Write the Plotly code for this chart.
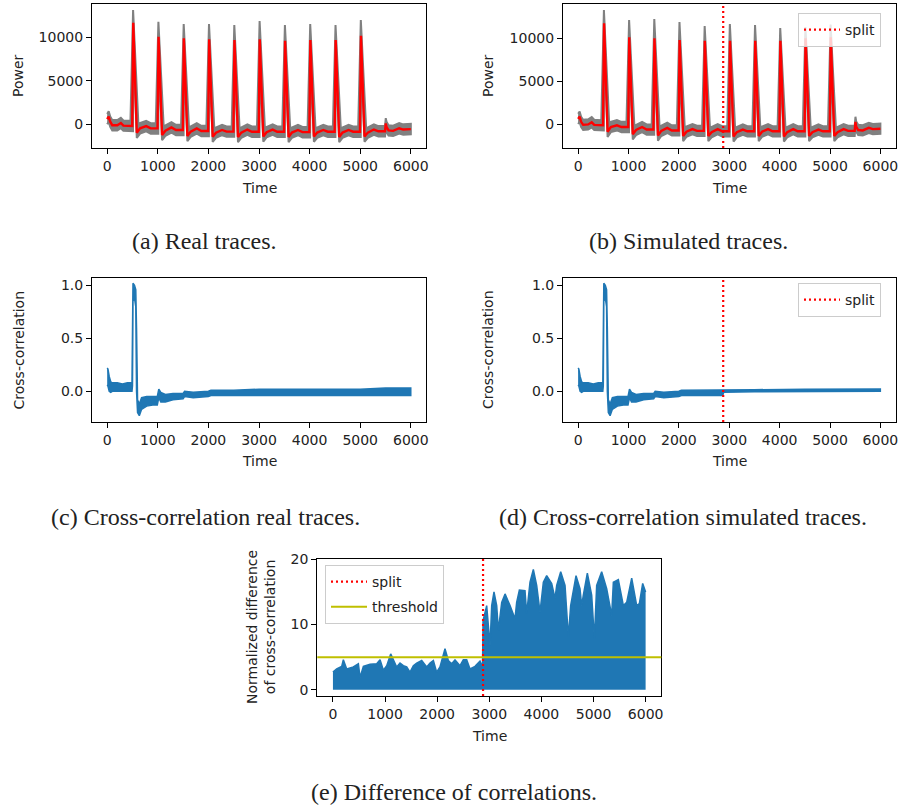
import plotly.graph_objects as go

W, H = 902, 807

# ---------------- data ----------------
TIME_TICKS = [0, 1000, 2000, 3000, 4000, 5000, 6000]
POWER_TICKS = [0, 5000, 10000]
CC_TICKS = [0.0, 0.5, 1.0]
DIFF_TICKS = [0, 10, 20]
SPLIT_TIME = 2880
THRESHOLD = 5

SPIKE_TIMES = [500, 1000, 1500, 2000, 2500, 3000, 3500, 4000, 4500, 5000]

# (a) real traces: mean trace (red) and spread of all traces (grey)
real_head_t = [0, 30, 60, 100, 200, 270, 320, 450]
real_head = [600, 900, 300, -100, -100, 150, -150, -200]
real_peak = [11680, 10070, 9880, 9770, 9690, 9770, 9610, 9690, 9690, 10180]
real_grey_peak = [13140, 11790, 11530, 11530, 11410, 11870, 11410, 11530, 11410, 11990]
real_trough = [-960, -1230, -1340, -1420, -1450, -1400, -1450, -1400, -1450, -1400]
real_recover = [-460, -730, -840, -960, -950, -900, -950, -950, -950, -950]
real_bump = [-200, -350, -460, -650, -600, -600, -650, -650, -650, -600]
real_flat = [-470, -650, -770, -840, -850, -850, -900, -850, -850, -800]
real_tail_t = [5490, 5505, 5520, 5560, 5650, 5770, 5850, 6000]
real_tail = [-800, 110, -300, -700, -750, -450, -600, -550]
real_spread = 600

# (b) simulated traces
sim_head_t = [0, 30, 60, 100, 200, 270, 320, 450]
sim_head = [600, 850, 250, -100, -50, 200, -100, -150]
sim_peak = [11750, 10120, 10000, 9800, 9720, 9720, 9720, 9720, 10000, 10120]
sim_grey_peak = [13300, 12130, 12250, 11900, 11440, 11670, 11550, 11200, 11300, 11600]
sim_trough = [-900, -1200, -1350, -1400, -1400, -1450, -1400, -1450, -1400, -1400]
sim_recover = [-350, -700, -800, -900, -950, -950, -900, -950, -950, -950]
sim_bump = [-150, -350, -450, -600, -600, -650, -600, -600, -650, -600]
sim_flat = [-350, -650, -750, -800, -850, -850, -850, -850, -850, -800]
sim_tail_t = [5490, 5505, 5520, 5560, 5650, 5770, 5850, 6000]
sim_tail = [-800, 250, -300, -700, -750, -450, -600, -550]
sim_spread = 600

# (c) cross-correlation of real traces (band: upper / lower edge)
cc_real_t = [0, 15, 40, 70, 100, 200, 300, 400, 490, 500, 510, 540, 565, 580, 600, 635, 680, 780,
             900, 990, 1020, 1060, 1150, 1300, 1500, 1530, 1700, 2000, 2050, 2500, 3000, 3500,
             4000, 4500, 5000, 5500, 5999]
cc_real_hi = [0.22, 0.21, 0.14, 0.09, 0.08, 0.08, 0.07, 0.08, 0.08, 0.95, 1.02, 1.0, 0.96, 0.6,
              -0.08, -0.12, -0.06, -0.05, -0.05, -0.05, 0.02, -0.01, -0.03, -0.02, -0.02, 0.0,
              -0.01, 0.0, 0.01, 0.01, 0.02, 0.02, 0.02, 0.02, 0.02, 0.03, 0.03]
cc_real_lo = [0.06, 0.05, 0.0, -0.01, 0.0, 0.0, 0.0, 0.0, 0.0, 0.05, 0.85, 0.88, 0.80, 0.0,
              -0.2, -0.23, -0.17, -0.14, -0.13, -0.13, -0.06, -0.1, -0.1, -0.08, -0.07, -0.05,
              -0.06, -0.05, -0.04, -0.04, -0.04, -0.04, -0.04, -0.04, -0.04, -0.04, -0.04]

# (d) cross-correlation of simulated traces
cc_sim_t = [0, 15, 40, 70, 100, 200, 300, 400, 490, 500, 510, 540, 565, 580, 600, 635, 680, 780,
            900, 990, 1020, 1060, 1150, 1300, 1500, 1530, 1700, 2000, 2050, 2500, 2870, 2890,
            3500, 4500, 5999]
cc_sim_hi = [0.22, 0.21, 0.14, 0.09, 0.08, 0.08, 0.07, 0.08, 0.08, 0.95, 1.02, 1.0, 0.96, 0.6,
             -0.08, -0.12, -0.06, -0.05, -0.05, -0.05, 0.02, -0.01, -0.03, -0.02, -0.02, 0.0,
             -0.01, 0.0, 0.01, 0.01, 0.01, 0.015, 0.015, 0.02, 0.022]
cc_sim_lo = [0.06, 0.05, 0.0, -0.01, 0.0, 0.0, 0.0, 0.0, 0.0, 0.05, 0.85, 0.88, 0.80, 0.0,
             -0.2, -0.23, -0.17, -0.14, -0.13, -0.13, -0.06, -0.1, -0.1, -0.08, -0.07, -0.05,
             -0.06, -0.05, -0.04, -0.04, -0.04, -0.01, -0.005, 0.0, 0.0]

# (e) normalized difference of cross-correlation (upper envelope, base at 0)
diff_t = [0, 72, 168, 200, 264, 392, 488, 520, 584, 712, 840, 904, 968, 1032, 1108, 1159, 1223,
          1287, 1351, 1415, 1479, 1543, 1607, 1703, 1799, 1863, 1927, 1990, 2054, 2150, 2214, 2278,
          2342, 2438, 2502, 2566, 2630, 2726, 2822, 2870,
          2880, 2950, 3014, 3046, 3090, 3142, 3174, 3238, 3302, 3398, 3461, 3493, 3525, 3577, 3685,
          3717, 3781, 3845, 3909, 3973, 4037, 4101, 4197, 4261, 4293, 4370, 4453, 4517, 4561, 4664,
          4740, 4772, 4804, 4881, 4964, 5016, 5060, 5156, 5252, 5348, 5380, 5476, 5572, 5636, 5732,
          5828, 5879, 5943, 5999]
diff_hi = [2.7, 3.2, 3.6, 4.6, 3.2, 3.5, 4.0, 1.9, 3.6, 3.9, 4.0, 4.6, 3.0, 3.7, 5.5, 4.5, 3.5,
           4.1, 3.7, 3.5, 2.7, 3.7, 4.1, 4.5, 3.5, 4.1, 4.5, 2.7, 3.5, 6.3, 4.5, 4.0,
           4.6, 3.7, 4.6, 4.6, 3.2, 3.6, 4.4, 3.5,
           10.6, 12.9, 6.8, 12.9, 15.0, 12.9, 9.1, 13.4, 14.7, 12.9, 11.4, 10.9, 13.4, 15.3, 15.2,
           11.7, 16.5, 18.45, 16.0, 11.9, 16.5, 17.5, 16.3, 14.0, 16.0, 18.1, 16.0, 8.1, 12.9, 17.5,
           15.5, 12.9, 14.5, 17.9, 14.5, 7.8, 16.0, 18.1, 15.5, 11.4, 16.5, 16.9, 12.9, 13.4, 17.1,
           12.9, 13.2, 16.3, 15.0]

# ---------------- styling ----------------
BLUE = "#1f77b4"
RED = "#ff0000"
GREY = "#808080"
OLIVE = "#bfbf00"
TXT = "#222222"
FONT = "DejaVu Sans"
SERIF = "Liberation Serif"


def build_power(head_t, head, peaks, grey_peaks, troughs, recovers, bumps, flats, tail_t, tail, spread):
    rt, rv = list(head_t), list(head)
    ht, hv = list(head_t), [v + spread for v in head]
    lt, lv = list(head_t), [v - spread for v in head]
    prev = head[-1]
    for T, pk, gp, tr, rc, bp, fl in zip(SPIKE_TIMES, peaks, grey_peaks, troughs, recovers, bumps, flats):
        rt += [T - 5, T + 15, T + 85, T + 150, T + 270, T + 360]
        rv += [prev, pk, tr, rc, bp, fl]
        ht += [T - 40, T + 12, T + 120, T + 150, T + 270, T + 360]
        hv += [prev + spread, gp, tr + spread, rc + spread, bp + spread, fl + spread]
        lt += [T + 10, T + 20, T + 85, T + 150, T + 270, T + 360]
        lv += [prev - spread, pk - 2500, tr - spread, rc - spread, bp - spread, fl - spread]
        prev = fl
    rt += tail_t
    rv += tail
    ht += tail_t
    hv += [v + spread for v in tail]
    lt += tail_t
    lv += [v - spread for v in tail]
    return rt, rv, ht, hv, lt, lv


fig = go.Figure()


def add_power(xa, ya, data):
    rt, rv, ht, hv, lt, lv = data
    fig.add_trace(go.Scatter(x=ht + lt[::-1], y=hv + lv[::-1], fill="toself", fillcolor=GREY,
                             mode="lines", line=dict(color=GREY, width=2), showlegend=False,
                             xaxis=xa, yaxis=ya, hoverinfo="skip"))
    fig.add_trace(go.Scatter(x=rt, y=rv, mode="lines", line=dict(color=RED, width=2.4),
                             showlegend=False, xaxis=xa, yaxis=ya))


add_power("x", "y", build_power(real_head_t, real_head, real_peak, real_grey_peak, real_trough,
                                real_recover, real_bump, real_flat, real_tail_t, real_tail, real_spread))
add_power("x2", "y2", build_power(sim_head_t, sim_head, sim_peak, sim_grey_peak, sim_trough,
                                  sim_recover, sim_bump, sim_flat, sim_tail_t, sim_tail, sim_spread))


def add_band(xa, ya, t, hi, lo):
    fig.add_trace(go.Scatter(x=t + t[::-1], y=hi + lo[::-1], fill="toself", fillcolor=BLUE,
                             mode="lines", line=dict(color=BLUE, width=1.5), showlegend=False,
                             xaxis=xa, yaxis=ya, hoverinfo="skip"))


add_band("x3", "y3", cc_real_t, cc_real_hi, cc_real_lo)
add_band("x4", "y4", cc_sim_t, cc_sim_hi, cc_sim_lo)

fig.add_trace(go.Scatter(x=diff_t, y=diff_hi, fill="tozeroy", fillcolor=BLUE, mode="lines",
                         line=dict(color=BLUE, width=1.5), showlegend=False,
                         xaxis="x5", yaxis="y5"))

# split / threshold lines as shapes, legend entries as empty traces
SPLIT_DASH = "2px,3px"
for xa, ya in [("x2", "y2"), ("x4", "y4"), ("x5", "y5")]:
    fig.add_shape(type="line", xref=xa, yref=f"{ya} domain", x0=SPLIT_TIME, x1=SPLIT_TIME, y0=0, y1=1,
                  line=dict(color=RED, width=2.2, dash=SPLIT_DASH))
fig.add_shape(type="line", xref="x5 domain", yref="y5", x0=0, x1=1, y0=THRESHOLD, y1=THRESHOLD,
              line=dict(color=OLIVE, width=2))

for lg in ["legend", "legend2", "legend3"]:
    fig.add_trace(go.Scatter(x=[None], y=[None], mode="lines", name="split",
                             line=dict(color=RED, width=2.2, dash=SPLIT_DASH),
                             showlegend=True, legend=lg, legendgroup=lg + "s",
                             xaxis="x5", yaxis="y5"))
fig.add_trace(go.Scatter(x=[None], y=[None], mode="lines", name="threshold",
                         line=dict(color=OLIVE, width=2), showlegend=True, legend="legend3",
                         legendgroup="thr", xaxis="x5", yaxis="y5"))


def dx(l, r):
    return [l / W, r / W]


def dy(t, b):
    return [1 - b / H, 1 - t / H]


axis_common = dict(showline=True, mirror=True, linecolor="black", linewidth=1.1,
                   ticks="outside", ticklen=5, tickwidth=1.1, tickcolor="black",
                   showgrid=False, zeroline=False, automargin=False,
                   tickfont=dict(family=FONT, size=14, color=TXT))

panels = [
    ("xaxis", "yaxis", "y", "x", (92, 426), (4, 148), [-300, 6300], [-2720, 13830], POWER_TICKS, [str(v) for v in POWER_TICKS]),
    ("xaxis2", "yaxis2", "y2", "x2", (563, 895.5), (4, 148), [-300, 6300], [-2800, 14000], POWER_TICKS, [str(v) for v in POWER_TICKS]),
    ("xaxis3", "yaxis3", "y3", "x3", (92, 426), (278, 422), [-300, 6300], [-0.29, 1.07], CC_TICKS, [f"{v:.1f}" for v in CC_TICKS]),
    ("xaxis4", "yaxis4", "y4", "x4", (563, 895.5), (278, 422), [-300, 6300], [-0.29, 1.07], CC_TICKS, [f"{v:.1f}" for v in CC_TICKS]),
    ("xaxis5", "yaxis5", "y5", "x5", (317.3, 661.3), (559, 696), [-300, 6300], [-0.95, 20.05], DIFF_TICKS, [str(v) for v in DIFF_TICKS]),
]
lay = {}
for xk, yk, yref, xref, (l, r), (t, b), xr, yr, yt, ytt in panels:
    lay[xk] = dict(axis_common, domain=dx(l, r), range=xr, anchor=yref,
                   tickvals=TIME_TICKS, ticktext=[str(v) for v in TIME_TICKS])
    lay[yk] = dict(axis_common, domain=dy(t, b), range=yr, anchor=xref,
                   tickvals=yt, ticktext=ytt)

legend_common = dict(bgcolor="rgba(255,255,255,0.8)", bordercolor="#cccccc", borderwidth=1,
                     font=dict(family=FONT, size=14, color=TXT), xanchor="left", yanchor="top",
                     xref="paper", yref="paper", itemwidth=36, tracegroupgap=4)
lay["legend2"] = dict(legend_common, x=798 / W, y=1 - 13 / H)   # panel (b)
lay["legend"] = dict(legend_common, x=798 / W, y=1 - 283 / H)   # panel (d)
lay["legend3"] = dict(legend_common, x=325 / W, y=1 - 565 / H)  # panel (e)

annotations = []


def ann(text, x, y, size=14, family=FONT, angle=0):
    annotations.append(dict(text=text, x=x / W, y=1 - y / H, xref="paper", yref="paper",
                            showarrow=False, textangle=angle, xanchor="center", yanchor="middle",
                            font=dict(family=family, size=size, color=TXT)))


ann("Time", 259, 188)
ann("Time", 729, 188)
ann("Time", 259, 461)
ann("Time", 729, 461)
ann("Time", 489, 736)
ann("Power", 18, 76, angle=-90)
ann("Power", 488, 76, angle=-90)
ann("Cross-correlation", 18.5, 350, angle=-90)
ann("Cross-correlation", 488, 350, angle=-90)
ann("Normalized difference<br>of cross-correlation", 261, 627, angle=-90)

ann("(a) Real traces.", 204, 241, size=24, family=SERIF)
ann("(b) Simulated traces.", 688, 241, size=24, family=SERIF)
ann("(c) Cross-correlation real traces.", 205, 517, size=24, family=SERIF)
ann("(d) Cross-correlation simulated traces.", 683, 517, size=24, family=SERIF)
ann("(e) Difference of correlations.", 454, 792, size=24, family=SERIF)

fig.update_layout(width=W, height=H, margin=dict(l=0, r=0, t=0, b=0, autoexpand=False),
                  paper_bgcolor="white", plot_bgcolor="white",
                  annotations=annotations, **lay)

PIN = ("document.documentElement.style.margin='0';document.body.style.margin='0';"
       "document.body.style.overflow='hidden';"
       "var gd=document.getElementById('{plot_id}');gd.style.position='fixed';"
       "gd.style.left='0px';gd.style.top='0px';")
fig.write_html("out.html", post_script=PIN, config={"displayModeBar": False})
